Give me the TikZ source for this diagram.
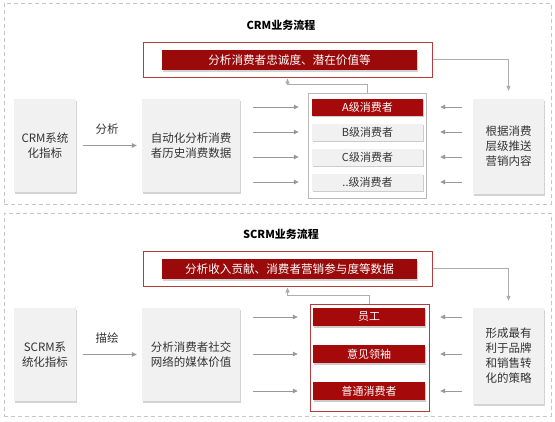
\documentclass[tikz,border=0pt]{standalone}
\usepackage{fontspec}
\setmainfont{Noto Sans CJK SC}
\usetikzlibrary{shadows,arrows.meta}
\definecolor{dred}{HTML}{9B0A0A}
\definecolor{ored}{HTML}{B53A3A}
\definecolor{gfill}{HTML}{F1F1F1}
\definecolor{gline}{HTML}{999999}
\definecolor{txt}{HTML}{333333}
\begin{document}
\begin{tikzpicture}[x=1pt,y=-1pt,
  section/.style={draw=gray!45,dashed,dash pattern=on 4pt off 3pt,line width=0.8pt,minimum width=547pt,inner sep=0pt},
  ttl/.style={font=\bfseries\fontsize{11}{13}\selectfont,text=black},
  redout/.style={draw=ored,line width=1pt,fill=white,minimum width=289pt,minimum height=35pt,inner sep=0pt},
  bar/.style={fill=dred,text=white,minimum width=255pt,minimum height=20pt,inner sep=0pt,font=\fontsize{11.6}{13}\selectfont,drop shadow={shadow xshift=1pt,shadow yshift=-1.5pt,opacity=0.35}},
  gbox/.style={fill=gfill,text=txt,inner sep=0pt,align=center,font=\fontsize{11.5}{15}\selectfont,drop shadow={shadow xshift=1pt,shadow yshift=-1.5pt,opacity=0.35}},
  rowg/.style={fill=gfill,text=txt,minimum width=111pt,minimum height=17pt,inner sep=0pt,font=\fontsize{11}{12}\selectfont,drop shadow={shadow xshift=0.5pt,shadow yshift=-1.5pt,opacity=0.4}},
  rowr/.style={fill=dred!90!red,text=white,minimum width=112pt,minimum height=18pt,inner sep=0pt,font=\fontsize{11}{12}\selectfont,drop shadow={shadow xshift=0.5pt,shadow yshift=-1.5pt,opacity=0.4}},
  lab/.style={text=txt,font=\fontsize{11.5}{13}\selectfont,inner sep=0pt},
  arr/.style={draw=gline,line width=0.8pt,-{Triangle[length=5pt,width=4.5pt]}},
  fb/.style={draw=gline!80,line width=0.7pt,-{Triangle[length=5pt,width=4pt]}}
]
\useasboundingbox (0,0) rectangle (555,421);
% ---------- top section ----------
\node[section,minimum height=201pt] (sec1) at (277.5,103.5) {};
\node[ttl] (t1) at (281,25) {CRM业务流程};
\node[redout] (ro1) at (287.5,59.5) {};
\node[bar] (b1) at (289.5,60) {分析消费者忠诚度、潜在价值等};
\node[gbox,minimum width=62pt,minimum height=93pt] (l1) at (45,145.5) {CRM系统\\化指标};
\node[gbox,minimum width=98pt,minimum height=93pt] (m1) at (191,145.5) {自动化分析消费\\者历史消费数据};
\node[draw=gray!55,line width=0.8pt,fill=white,minimum width=118pt,minimum height=105pt,inner sep=0pt] (c1) at (367,145.5) {};
\node[rowr,minimum width=111pt,minimum height=17pt] (ra) at (367.5,107) {A级消费者};
\node[rowg] (rb) at (367.5,132) {B级消费者};
\node[rowg] (rc) at (367.5,157) {C级消费者};
\node[rowg] (rd) at (367.5,182) {..级消费者};
\node[gbox,minimum width=71pt,minimum height=95pt] (g1) at (508.5,146.5) {根据消费\\层级推送\\营销内容};
\node[lab] (a1) at (107,129) {分析};
\draw[arr,shorten <=7pt,shorten >=5pt] (l1) -- (m1);
\foreach \r in {ra,rb,rc,rd}{
  \draw[arr,shorten <=13pt,shorten >=13pt] (m1.east |- \r) -- (\r.west);
  \draw[arr,shorten <=11pt,shorten >=17pt] (g1.west |- \r) -- (\r.east);
}
\draw[fb,shorten >=8pt] (ro1.east) -| (g1.north);
\draw[fb,shorten >=1pt] (c1.north) -- ++(0,-8) -| (ro1.south);
% ---------- bottom section ----------
\node[section,minimum height=203pt] (sec2) at (277.5,314.5) {};
\node[ttl] (t2) at (281,234) {SCRM业务流程};
\node[redout] (ro2) at (287.5,268.5) {};
\node[bar] (b2) at (289.5,269) {分析收入贡献、消费者营销参与度等数据};
\node[gbox,minimum width=62pt,minimum height=93pt] (l2) at (45,354.5) {SCRM系\\统化指标};
\node[gbox,minimum width=98pt,minimum height=93pt] (m2) at (191,354.5) {分析消费者社交\\网络的媒体价值};
\node[draw=ored,line width=1pt,fill=white,minimum width=119pt,minimum height=107pt,inner sep=0pt] (c2) at (369.5,357.5) {};
\node[rowr] (re) at (369,317) {员工};
\node[rowr] (rf) at (369,354) {意见领袖};
\node[rowr] (rg) at (369,391) {普通消费者};
\node[gbox,minimum width=71pt,minimum height=96pt] (g2) at (508.5,356) {形成最有\\利于品牌\\和销售转\\化的策略};
\node[lab] (a2) at (107,338) {描绘};
\draw[arr,shorten <=7pt,shorten >=5pt] (l2) -- (m2);
\foreach \r in {re,rf,rg}{
  \draw[arr,shorten <=13pt,shorten >=15pt] (m2.east |- \r) -- (\r.west);
  \draw[arr,shorten <=11pt,shorten >=15pt] (g2.west |- \r) -- (\r.east);
}
\draw[fb,shorten >=7pt] (ro2.east) -| (g2.north);
\draw[fb,shorten >=1pt] (c2.north) -- ++(0,-8) -| (ro2.south);
\end{tikzpicture}
\end{document}
